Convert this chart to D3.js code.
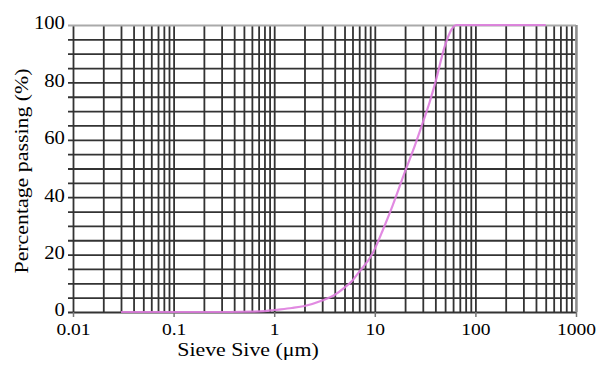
<!DOCTYPE html>
<html>
<head>
<meta charset="utf-8">
<script src="https://cdn.jsdelivr.net/npm/d3@7"></script>
<style>
  body { margin: 0; background: #fff; }
  text { font-family: "Liberation Serif", "Times New Roman", serif; fill: #000; }
</style>
</head>
<body>
<div id="canvas"></div>
<script>
// particle size distribution
const sieveSize = [0.03, 0.1, 0.3, 0.6, 0.8, 1, 1.5, 2, 3, 4, 5, 6, 7, 8, 9, 10, 12, 15, 20, 25, 30, 35, 40, 50, 58, 65, 100, 200, 500];
const passing   = [0, 0, 0, 0.1, 0.3, 0.7, 1.4, 2.1, 4.0, 6.0, 8.5, 11, 14, 16.5, 19, 22, 28.5, 37, 49, 58, 66, 73, 80, 93, 98.5, 100, 100, 100, 100];

const xTickValues = [0.01, 0.1, 1, 10, 100, 1000];
const xTickLabels = ["0.01", "0.1", "1", "10", "100", "1000"];
const yTickValues = [0, 20, 40, 60, 80, 100];
const yGridValues = [0, 5, 10, 15, 20, 25, 30, 35, 40, 45, 50, 55, 60, 65, 70, 75, 80, 85, 90, 95, 100];

const margin = { top: 25, right: 24, bottom: 55, left: 73 };
const width = 600 - margin.left - margin.right;
const height = 367 - margin.top - margin.bottom;
const stretch = 1.15; // text in the picture is drawn a bit wide

const svg = d3.select("#canvas")
  .append("svg")
  .attr("width", 600)
  .attr("height", 367);

const g = svg.append("g")
  .attr("transform", `translate(${margin.left},${margin.top})`);

const x = d3.scaleLog()
  .domain([0.01, 1000])
  .range([0, width]);

const y = d3.scaleLinear()
  .domain([0, 100])
  .range([height, 0]);

// vertical grid (1..9 per decade)
const xGrid = g.append("g")
  .attr("transform", `translate(0,${height})`)
  .call(d3.axisBottom(x).ticks(10).tickSize(-height).tickFormat(""));
xGrid.select(".domain").remove();
xGrid.selectAll("line")
  .attr("stroke", "#333")
  .attr("stroke-width", 1.8);

// horizontal grid every 5%
const yGrid = g.append("g")
  .call(d3.axisLeft(y).tickValues(yGridValues).tickSize(-(width + 5)).tickFormat(""))
  .attr("transform", "translate(-5,0)");
yGrid.select(".domain").remove();
yGrid.selectAll("line")
  .attr("stroke", "#333")
  .attr("stroke-width", 1.8);
yGrid.selectAll(".tick")
  .filter(d => d === 100)
  .select("line")
  .attr("stroke", "#aaa");

// right edge a little lighter
g.append("line")
  .attr("x1", x(1000)).attr("x2", x(1000))
  .attr("y1", 0).attr("y2", height)
  .attr("stroke", "#999")
  .attr("stroke-width", 1.8);

// x axis labels + small decade ticks
const xAxis = g.append("g")
  .attr("transform", `translate(0,${height})`)
  .call(d3.axisBottom(x)
    .tickValues(xTickValues)
    .tickSize(5)
    .tickPadding(6)
    .tickFormat((d, i) => xTickLabels[i]));
xAxis.select(".domain").remove();
xAxis.selectAll("line").attr("stroke", "#777").attr("stroke-width", 1.5);
xAxis.selectAll("text")
  .attr("transform", `scale(${stretch},1)`)
  .style("font-size", "17px");

// y axis labels
const yAxis = g.append("g")
  .call(d3.axisLeft(y).tickValues(yTickValues).tickSize(0).tickPadding(7));
yAxis.select(".domain").remove();
yAxis.selectAll("text")
  .attr("transform", `scale(${stretch},1)`)
  .attr("dy", "0.22em")
  .style("font-size", "18px");

// curve
const line = d3.line()
  .x((d, i) => x(sieveSize[i]))
  .y(d => y(d))
  .curve(d3.curveMonotoneX);

g.append("path")
  .datum(passing)
  .attr("fill", "none")
  .attr("stroke", "rgb(222,125,222)")
  .attr("stroke-width", 2.2)
  .attr("stroke-opacity", 0.9)
  .attr("d", line);

// axis titles
svg.append("text")
  .attr("transform", `translate(248,356) scale(${stretch},1)`)
  .attr("text-anchor", "middle")
  .style("font-size", "19px")
  .text("Sieve Sive (\u03bcm)");

svg.append("text")
  .attr("transform", `translate(28,171) rotate(-90) scale(${stretch},1)`)
  .attr("text-anchor", "middle")
  .style("font-size", "19px")
  .text("Percentage passing (%)");
</script>
</body>
</html>
